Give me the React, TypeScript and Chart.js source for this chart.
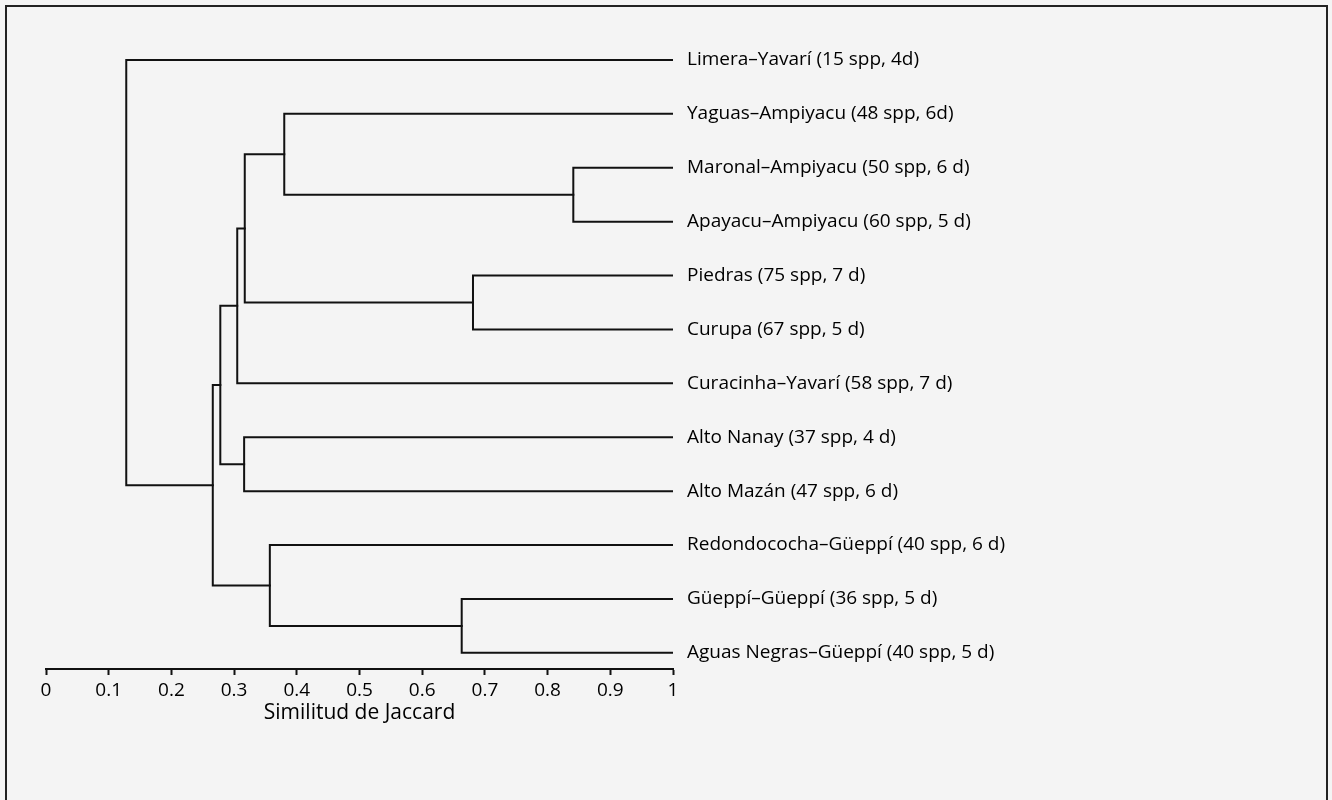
import React, { useEffect, useRef } from "react";
import { Chart, registerables } from "chart.js";

Chart.register(...registerables);

// Leaves (top to bottom)
const leafLabels = [
  "Limera–Yavarí (15 spp, 4d)",
  "Yaguas–Ampiyacu (48 spp, 6d)",
  "Maronal–Ampiyacu (50 spp, 6 d)",
  "Apayacu–Ampiyacu (60 spp, 5 d)",
  "Piedras (75 spp, 7 d)",
  "Curupa (67 spp, 5 d)",
  "Curacinha–Yavarí (58 spp, 7 d)",
  "Alto Nanay (37 spp, 4 d)",
  "Alto Mazán (47 spp, 6 d)",
  "Redondococha–Güeppí (40 spp, 6 d)",
  "Güeppí–Güeppí (36 spp, 5 d)",
  "Aguas Negras–Güeppí (40 spp, 5 d)",
];

// Merges: node ids 0..11 are leaves, merge k creates node 12+k
const mergeLeft = [2, 1, 4, 13, 15, 7, 16, 10, 9, 18, 0];
const mergeRight = [3, 12, 5, 14, 6, 8, 17, 11, 19, 20, 21];
const mergeSimilarity = [0.841, 0.38, 0.681, 0.317, 0.305, 0.316, 0.278, 0.663, 0.357, 0.266, 0.128];

const leafSimilarity = 1;

const xTickValues = [0, 0.1, 0.2, 0.3, 0.4, 0.5, 0.6, 0.7, 0.8, 0.9, 1];
const xTickLabels = ["0", "0.1", "0.2", "0.3", "0.4", "0.5", "0.6", "0.7", "0.8", "0.9", "1"];
const xTitle = "Similitud de Jaccard";

const FONT = "'Open Sans', 'Noto Sans', sans-serif";
const INK = "#111";
const TEXT = "#000";

function buildDatasets() {
  const pos: number[] = leafLabels.map((_, i) => i);
  const hgt: number[] = leafLabels.map(() => leafSimilarity);
  const sets: any[] = [];
  mergeLeft.forEach((a, k) => {
    const b = mergeRight[k];
    const h = mergeSimilarity[k];
    sets.push({
      data: [
        { x: hgt[a], y: pos[a] },
        { x: h, y: pos[a] },
        { x: h, y: pos[b] },
        { x: hgt[b], y: pos[b] },
      ],
      showLine: true,
      borderColor: INK,
      borderWidth: 2,
      pointRadius: 0,
      pointHoverRadius: 0,
      fill: false,
      tension: 0,
      borderJoinStyle: "miter",
      borderCapStyle: "square",
    });
    pos.push((pos[a] + pos[b]) / 2);
    hgt.push(h);
  });
  return sets;
}

export default function App() {
  const ref = useRef<HTMLCanvasElement | null>(null);

  useEffect(() => {
    if (!ref.current) return;
    const chart = new Chart(ref.current, {
      type: "scatter",
      data: { datasets: buildDatasets() },
      options: {
        animation: false,
        responsive: false,
        events: [],
        layout: { padding: { left: 46, top: 33, right: 0, bottom: 0 } },
        plugins: { legend: { display: false }, tooltip: { enabled: false } },
        scales: {
          x: {
            type: "linear",
            position: "bottom",
            min: 0,
            max: 1,
            afterBuildTicks: (scale: any) => {
              scale.ticks = xTickValues.map((v) => ({ value: v }));
            },
            afterFit: (scale: any) => {
              scale.height = 131;
            },
            ticks: {
              autoSkip: false,
              maxRotation: 0,
              padding: 4,
              color: TEXT,
              font: { family: FONT, size: 19 },
              callback: (_v: any, i: number) => xTickLabels[i],
            },
            grid: {
              display: true,
              drawOnChartArea: false,
              drawTicks: true,
              tickLength: 6,
              tickColor: INK,
              tickWidth: 2,
            },
            border: { display: true, color: INK, width: 2 },
            title: {
              display: true,
              text: xTitle,
              color: TEXT,
              font: { family: FONT, size: 21 },
              padding: { top: 0, bottom: 74 },
            },
          },
          y: {
            type: "linear",
            position: "right",
            reverse: true,
            min: -0.5,
            max: 11.3,
            afterBuildTicks: (scale: any) => {
              scale.ticks = leafLabels.map((_, i) => ({ value: i }));
            },
            afterFit: (scale: any) => {
              scale.width = 659;
            },
            ticks: {
              autoSkip: false,
              padding: 14,
              color: TEXT,
              font: { family: FONT, size: 19 },
              callback: (v: any) => leafLabels[v],
            },
            grid: { display: false, drawTicks: false },
            border: { display: false },
          },
        },
      },
    });
    return () => chart.destroy();
  }, []);

  return (
    <div
      style={{
        position: "fixed",
        left: 0,
        top: 0,
        width: 1332,
        height: 800,
        overflow: "hidden",
        background: "#f4f4f4",
      }}
    >
      <div
        style={{
          position: "absolute",
          left: 5,
          top: 5,
          width: 1319,
          height: 820,
          borderTop: "2px solid #222",
          borderLeft: "2px solid #222",
          borderRight: "2px solid #222",
        }}
      />
      <canvas ref={ref} width={1332} height={800} style={{ position: "absolute", left: 0, top: 0 }} />
    </div>
  );
}
